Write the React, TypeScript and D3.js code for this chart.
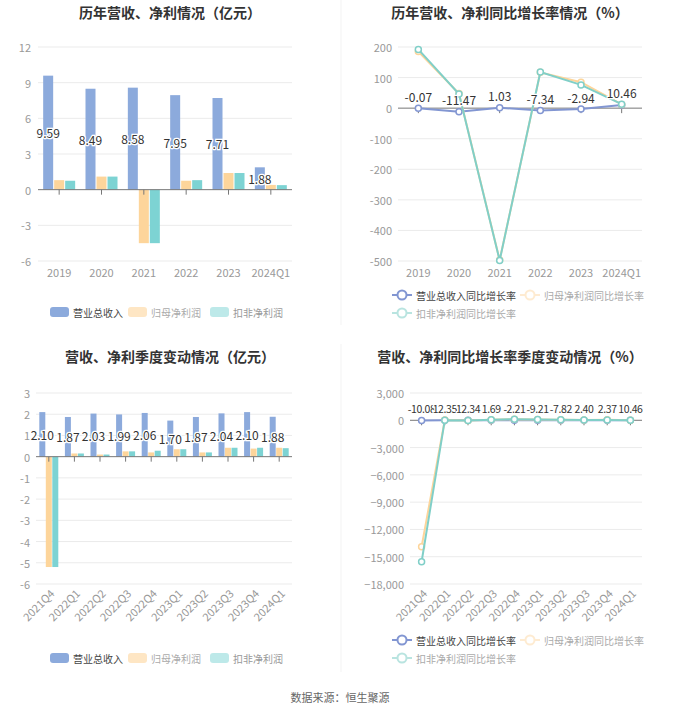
import React from 'react';
import * as d3 from 'd3';

const years = ['2019', '2020', '2021', '2022', '2023', '2024Q1'];
const yearRevenue = [9.59, 8.49, 8.58, 7.95, 7.71, 1.88];
const yearNetProfit = [0.8, 1.1, -4.5, 0.75, 1.4, 0.4];
const yearDeducted = [0.75, 1.1, -4.5, 0.8, 1.4, 0.38];
const yearRevenueGrowth = [-0.07, -11.47, 1.03, -7.34, -2.94, 10.46];
const yearNetGrowth = [185, 48, -497, 117, 85, 12];
const yearDeductedGrowth = [192, 46, -498, 118, 76, 13];

const quarters = ['2021Q4', '2022Q1', '2022Q2', '2022Q3', '2022Q4', '2023Q1', '2023Q2', '2023Q3', '2023Q4', '2024Q1'];
const quarterRevenue = [2.1, 1.87, 2.03, 1.99, 2.06, 1.7, 1.87, 2.04, 2.1, 1.88];
const quarterNetProfit = [-5.2, 0.15, 0.1, 0.25, 0.2, 0.35, 0.2, 0.42, 0.38, 0.42];
const quarterDeducted = [-5.2, 0.15, 0.1, 0.25, 0.28, 0.35, 0.2, 0.42, 0.42, 0.4];
const quarterRevenueGrowth = [-10.08, 12.35, 12.34, 1.69, -2.21, -9.21, -7.82, 2.4, 2.37, 10.46];
const quarterNetGrowth = [-13900, 20, -30, 60, 110, 90, 60, 40, 50, 12];
const quarterDeductedGrowth = [-15550, 10, -20, 70, 120, 100, 70, 40, 40, 12];

const yearBarTicks = [-6, -3, 0, 3, 6, 9, 12];
const yearLineTicks = [-500, -400, -300, -200, -100, 0, 100, 200];
const quarterBarTicks = [-6, -5, -4, -3, -2, -1, 0, 1, 2, 3];
const quarterLineTicks = [-18000, -15000, -12000, -9000, -6000, -3000, 0, 3000];

const barNames = ['营业总收入', '归母净利润', '扣非净利润'];
const lineNames = ['营业总收入同比增长率', '归母净利润同比增长率', '扣非净利润同比增长率'];

const FONT = '"Noto Sans CJK SC", "Noto Sans", sans-serif';
const C_BLUE = '#8caadc';
const C_YELLOW = '#fdd59b';
const C_CYAN = '#7dd3d3';
const L_BLUE = '#8296d2';
const L_YELLOW = '#fdd59b';
const L_CYAN = '#80cfc8';

type BarProps = {
  title: string; titleX: number; titleY: number;
  cats: string[]; series: number[][]; ticks: number[];
  x0: number; x1: number; yTop: number; yBot: number;
  barW: number; offset: number; rotate: boolean;
  labelY: number; legendY: number; yLabelX: number;
};

function Legend({ y, boxes }: { y: number; boxes: number[] }) {
  const colors = [C_BLUE, '#fee6c4', '#bde9e9'];
  const textColors = ['#444', '#aaa', '#999'];
  return (
    <g>
      {barNames.map((n, i) => (
        <g key={n}>
          <rect x={boxes[i]} y={y - 5} width={19} height={10} rx={3} fill={colors[i]} />
          <text x={boxes[i] + 23} y={y} dominantBaseline="central" fontSize={10} fill={textColors[i]}>{n}</text>
        </g>
      ))}
    </g>
  );
}

function BarPanel(p: BarProps) {
  const y = d3.scaleLinear().domain([p.ticks[0], p.ticks[p.ticks.length - 1]]).range([p.yBot, p.yTop]);
  const x = d3.scaleBand().domain(p.cats).range([p.x0, p.x1]);
  const colors = [C_BLUE, C_YELLOW, C_CYAN];
  const y0 = y(0);
  return (
    <g>
      <text x={p.titleX} y={p.titleY} textAnchor="middle" dominantBaseline="central" fontSize={14} fontWeight="bold" fill="#333">{p.title}</text>
      {p.ticks.map(t => (
        <g key={t}>
          {t !== 0 && <line x1={p.x0} x2={p.x1} y1={y(t)} y2={y(t)} stroke="#ebebeb" />}
          <text x={p.yLabelX} y={y(t)} textAnchor="end" dominantBaseline="central" fontSize={11} fill="#999">{t}</text>
        </g>
      ))}
      {p.series.map((s, si) => s.map((v, i) => {
        const cx = (x(p.cats[i]) as number) + x.bandwidth() / 2 + (si - 1) * p.offset;
        return <rect key={si + '-' + i} x={cx - p.barW / 2} y={Math.min(y(v), y0)} width={p.barW} height={Math.abs(y(v) - y0)} fill={colors[si]} />;
      }))}
      <line x1={p.x0} x2={p.x1} y1={y0} y2={y0} stroke="#777" />
      {p.cats.map(c => {
        const cx = (x(c) as number) + x.bandwidth() / 2;
        return (
          <g key={c}>
            <line x1={cx} x2={cx} y1={y0} y2={y0 + 5} stroke="#777" />
            {p.rotate ? (
              <text transform={`translate(${cx + 3},${p.labelY}) rotate(-45)`} textAnchor="end" dominantBaseline="central" fontSize={11} fill="#999">{c}</text>
            ) : (
              <text x={cx} y={p.labelY} textAnchor="middle" dominantBaseline="central" fontSize={11} fill="#999">{c}</text>
            )}
          </g>
        );
      })}
      {p.series[0].map((v, i) => {
        const cx = (x(p.cats[i]) as number) + x.bandwidth() / 2 - p.offset;
        return (
          <text key={i} x={cx} y={(y(v) + y0) / 2} textAnchor="middle" dominantBaseline="central" fontSize={12} fill="#333" stroke="#fff" strokeWidth={2.5} paintOrder="stroke">{v.toFixed(2)}</text>
        );
      })}
      <Legend y={p.legendY} boxes={[50, 128, 210]} />
    </g>
  );
}

type LineProps = {
  title: string; titleX: number; titleY: number;
  cats: string[]; series: number[][]; ticks: number[];
  x0: number; x1: number; yTop: number; yBot: number;
  rotate: boolean; labelY: number; legendY1: number; legendY2: number; yLabelX: number;
  fmt: (n: number) => string; valueSize: number;
};

function LineLegend({ y1, y2 }: { y1: number; y2: number }) {
  const items = [
    { x: 392, y: y1, c: L_BLUE, t: '#444', o: 1 },
    { x: 520, y: y1, c: L_YELLOW, t: '#aaa', o: 0.45 },
    { x: 392, y: y2, c: L_CYAN, t: '#aaa', o: 0.55 },
  ];
  return (
    <g>
      {items.map((it, i) => (
        <g key={i}>
          <g opacity={it.o}>
            <line x1={it.x} x2={it.x + 20} y1={it.y} y2={it.y} stroke={it.c} strokeWidth={2} />
            <circle cx={it.x + 10} cy={it.y} r={4.5} fill="#fff" stroke={it.c} strokeWidth={2} />
          </g>
          <text x={it.x + 24} y={it.y} dominantBaseline="central" fontSize={10} fill={it.t}>{lineNames[i]}</text>
        </g>
      ))}
    </g>
  );
}

function LinePanel(p: LineProps) {
  const y = d3.scaleLinear().domain([p.ticks[0], p.ticks[p.ticks.length - 1]]).range([p.yBot, p.yTop]);
  const x = d3.scalePoint().domain(p.cats).range([p.x0, p.x1]).padding(0.5);
  const colors = [L_BLUE, L_YELLOW, L_CYAN];
  const y0 = y(0);
  const line = d3.line<number>().x((_, i) => x(p.cats[i]) as number).y(v => y(v));
  return (
    <g>
      <text x={p.titleX} y={p.titleY} textAnchor="middle" dominantBaseline="central" fontSize={14} fontWeight="bold" fill="#333">{p.title}</text>
      {p.ticks.map(t => (
        <g key={t}>
          {t !== 0 && <line x1={p.x0} x2={p.x1} y1={y(t)} y2={y(t)} stroke="#ebebeb" />}
          <text x={p.yLabelX} y={y(t)} textAnchor="end" dominantBaseline="central" fontSize={11} fill="#999">{p.fmt(t)}</text>
        </g>
      ))}
      <line x1={p.x0} x2={p.x1} y1={y0} y2={y0} stroke="#777" />
      {p.cats.map(c => {
        const cx = x(c) as number;
        return (
          <g key={c}>
            <line x1={cx} x2={cx} y1={y0} y2={y0 + 5} stroke="#777" />
            {p.rotate ? (
              <text transform={`translate(${cx + 3},${p.labelY}) rotate(-45)`} textAnchor="end" dominantBaseline="central" fontSize={11} fill="#999">{c}</text>
            ) : (
              <text x={cx} y={p.labelY} textAnchor="middle" dominantBaseline="central" fontSize={11} fill="#999">{c}</text>
            )}
          </g>
        );
      })}
      {p.series.map((s, si) => (
        <g key={si}>
          <path d={line(s) || ''} fill="none" stroke={colors[si]} strokeWidth={2} />
          {s.map((v, i) => (
            <circle key={i} cx={x(p.cats[i]) as number} cy={y(v)} r={3} fill="#fff" stroke={colors[si]} strokeWidth={1.5} />
          ))}
        </g>
      ))}
      {p.series[0].map((v, i) => (
        <text key={i} x={x(p.cats[i]) as number} y={y(v) - 12} textAnchor="middle" dominantBaseline="central" fontSize={p.valueSize} letterSpacing={p.valueSize < 12 ? -0.4 : 0} fill="#333" stroke="#fff" strokeWidth={2.5} paintOrder="stroke">{v.toFixed(2)}</text>
      ))}
      <LineLegend y1={p.legendY1} y2={p.legendY2} />
    </g>
  );
}

export default function App() {
  const comma = d3.format(',');
  return (
    <svg width={680} height={712} style={{ position: 'absolute', left: 0, top: 0, fontFamily: FONT, background: '#fff' }}>
      <rect width={680} height={712} fill="#fff" />
      <line x1={341} x2={341} y1={0} y2={325} stroke="#f3f3f3" />
      <line x1={341} x2={341} y1={344} y2={672} stroke="#f3f3f3" />
      <BarPanel title="历年营收、净利情况（亿元）" titleX={170} titleY={12} cats={years}
        series={[yearRevenue, yearNetProfit, yearDeducted]} ticks={yearBarTicks}
        x0={38} x1={292} yTop={47} yBot={261} barW={10} offset={11} rotate={false}
        labelY={272} legendY={312} yLabelX={31} />
      <LinePanel title="历年营收、净利同比增长率情况（%）" titleX={510} titleY={12} cats={years}
        series={[yearRevenueGrowth, yearNetGrowth, yearDeductedGrowth]} ticks={yearLineTicks}
        x0={398} x1={642} yTop={47} yBot={261} rotate={false} labelY={272}
        legendY1={295} legendY2={313} yLabelX={392} fmt={n => String(n)} valueSize={12} />
      <BarPanel title="营收、净利季度变动情况（亿元）" titleX={170} titleY={356} cats={quarters}
        series={[quarterRevenue, quarterNetProfit, quarterDeducted]} ticks={quarterBarTicks}
        x0={36} x1={292} yTop={393} yBot={584} barW={6} offset={6.5} rotate={true}
        labelY={591} legendY={658} yLabelX={30} />
      <LinePanel title="营收、净利同比增长率季度变动情况（%）" titleX={510} titleY={356} cats={quarters}
        series={[quarterRevenueGrowth, quarterNetGrowth, quarterDeductedGrowth]} ticks={quarterLineTicks}
        x0={410} x1={642} yTop={393} yBot={584} rotate={true} labelY={591}
        legendY1={640} legendY2={658} yLabelX={404} fmt={n => comma(n)} valueSize={10.5} />
      <text x={340} y={697} textAnchor="middle" dominantBaseline="central" fontSize={11} fill="#666">数据来源：恒生聚源</text>
    </svg>
  );
}
